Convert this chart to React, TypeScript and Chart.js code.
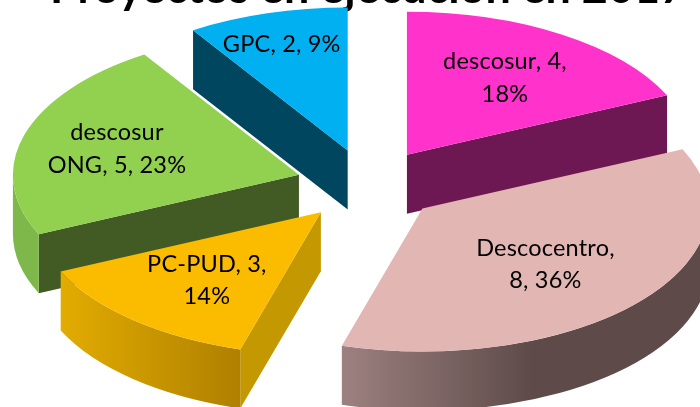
import React, { useEffect, useRef } from "react";
import { Chart, registerables } from "chart.js";

Chart.register(...registerables);

const TITLE = "Proyectos en ejecución en 2017";
const categories = ["descosur", "Descocentro", "PC-PUD", "descosur ONG", "GPC"];
const values = [4, 8, 3, 5, 2];
const firstLineWords = [2, 1, 2, 1, 3];

const topColors = ["#FF33CC", "#E2B6B3", "#FBBC00", "#92D050", "#00B0F0"];
const edgeColors = ["#6D1852", "#5E4B49", "#C49800", "#425A24", "#00465F"];
const rimFrom = ["#6D1852", "#9C8180", "#E2AC00", "#7FB84A", "#00465F"];
const rimTo = ["#6D1852", "#5E4B49", "#AF8000", "#7FB84A", "#00465F"];
// Text-block centre relative to the apex of each exploded slice.
const labelShiftX = [98, 123, -114, -182, -66];
const labelShiftY = [-77, 56, 68, -26, -106];

const SQUASH = 0.5;
const EXPLODE = 72;
const DEPTH = 59;
const LABEL_FONT = '23.5px Lato, "Open Sans", sans-serif';
const LABEL_LINE = 32.5;

const total = values.reduce((a, b) => a + b, 0);

const labelLines = (i: number): string[] => {
  const words = `${categories[i]}, ${values[i]}, ${Math.round((values[i] / total) * 100)}%`.split(" ");
  const k = firstLineWords[i];
  const first = words.slice(0, k).join(" ");
  const rest = words.slice(k).join(" ");
  return rest ? [first, rest] : [first];
};

const pie3d = {
  id: "pie3d",
  beforeDatasetsDraw(chart: any) {
    const ctx: CanvasRenderingContext2D = chart.ctx;
    const arcs: any[] = chart.getDatasetMeta(0).data;
    const geo = arcs.map((arc, i) => {
      const mid = (arc.startAngle + arc.endAngle) / 2;
      return {
        arc,
        i,
        mid,
        dx: Math.cos(mid) * EXPLODE,
        dy: Math.sin(mid) * EXPLODE,
        a0: arc.startAngle,
        a1: arc.endAngle,
        r: arc.outerRadius,
      };
    });
    const order = [...geo].sort((p, q) => p.dy - q.dy);
    for (const g of order) {
      const cx = g.arc.x + g.dx;
      const cy = g.arc.y + g.dy * SQUASH;
      const rim = (a: number) => [cx + g.r * Math.cos(a), cy + g.r * Math.sin(a) * SQUASH];
      const edge = (a: number) => {
        const [x, y] = rim(a);
        ctx.beginPath();
        ctx.moveTo(cx, cy);
        ctx.lineTo(x, y);
        ctx.lineTo(x, y + DEPTH);
        ctx.lineTo(cx, cy + DEPTH);
        ctx.closePath();
        ctx.fillStyle = edgeColors[g.i];
        ctx.fill();
      };
      if (Math.cos(g.a0) < -1e-6) edge(g.a0);
      if (Math.cos(g.a1) > 1e-6) edge(g.a1);

      const from = Math.max(g.a0, 0);
      const to = Math.min(g.a1, Math.PI);
      if (to > from) {
        const isRight = from <= 0;
        const grad = isRight
          ? ctx.createLinearGradient(rim(to)[0], 0, rim(to)[0] + 190, 0)
          : ctx.createLinearGradient(rim(to)[0], 0, rim(from)[0], 0);
        grad.addColorStop(0, rimFrom[g.i]);
        grad.addColorStop(1, rimTo[g.i]);
        ctx.beginPath();
        ctx.ellipse(cx, cy, g.r, g.r * SQUASH, 0, from, to);
        ctx.ellipse(cx, cy + DEPTH, g.r, g.r * SQUASH, 0, to, from, true);
        ctx.closePath();
        ctx.fillStyle = grad;
        ctx.fill();
      }

      ctx.save();
      ctx.translate(g.arc.x, g.arc.y);
      ctx.scale(1, SQUASH);
      ctx.translate(-g.arc.x, -g.arc.y);
      ctx.translate(g.dx, g.dy);
      g.arc.draw(ctx);
      ctx.restore();
    }

    ctx.save();
    ctx.font = LABEL_FONT;
    (ctx as any).letterSpacing = "0.2px";
    ctx.fillStyle = "#000000";
    ctx.textAlign = "center";
    ctx.textBaseline = "middle";
    for (const g of geo) {
      const lines = labelLines(g.i);
      const x = g.arc.x + g.dx + labelShiftX[g.i];
      const y = g.arc.y + g.dy * SQUASH + labelShiftY[g.i];
      lines.forEach((t, n) => {
        ctx.fillText(t, x, y + (n - (lines.length - 1) / 2) * LABEL_LINE);
      });
    }
    ctx.restore();
    return false;
  },
};

export default function App() {
  const ref = useRef<HTMLCanvasElement>(null);
  useEffect(() => {
    document.body.style.margin = "0";
    const chart = new Chart(ref.current as HTMLCanvasElement, {
      type: "pie",
      data: {
        labels: categories,
        datasets: [
          {
            data: values,
            backgroundColor: topColors,
            borderWidth: 0,
            radius: 286,
          } as any,
        ],
      },
      options: {
        responsive: false,
        animation: false,
        events: [],
        layout: { padding: { left: 50, right: 14, top: 0, bottom: 37 } },
        plugins: {
          legend: { display: false },
          tooltip: { enabled: false },
          title: {
            display: true,
            text: TITLE,
            align: "start",
            color: "#000000",
            font: { family: 'Lato, "Open Sans", sans-serif', size: 45, weight: "bold", lineHeight: 1.2 },
            padding: { top: -39, bottom: -15 },
          },
        },
      },
      plugins: [pie3d],
    } as any);
    return () => chart.destroy();
  }, []);
  return <canvas ref={ref} width={700} height={407} style={{ display: "block" }} />;
}
